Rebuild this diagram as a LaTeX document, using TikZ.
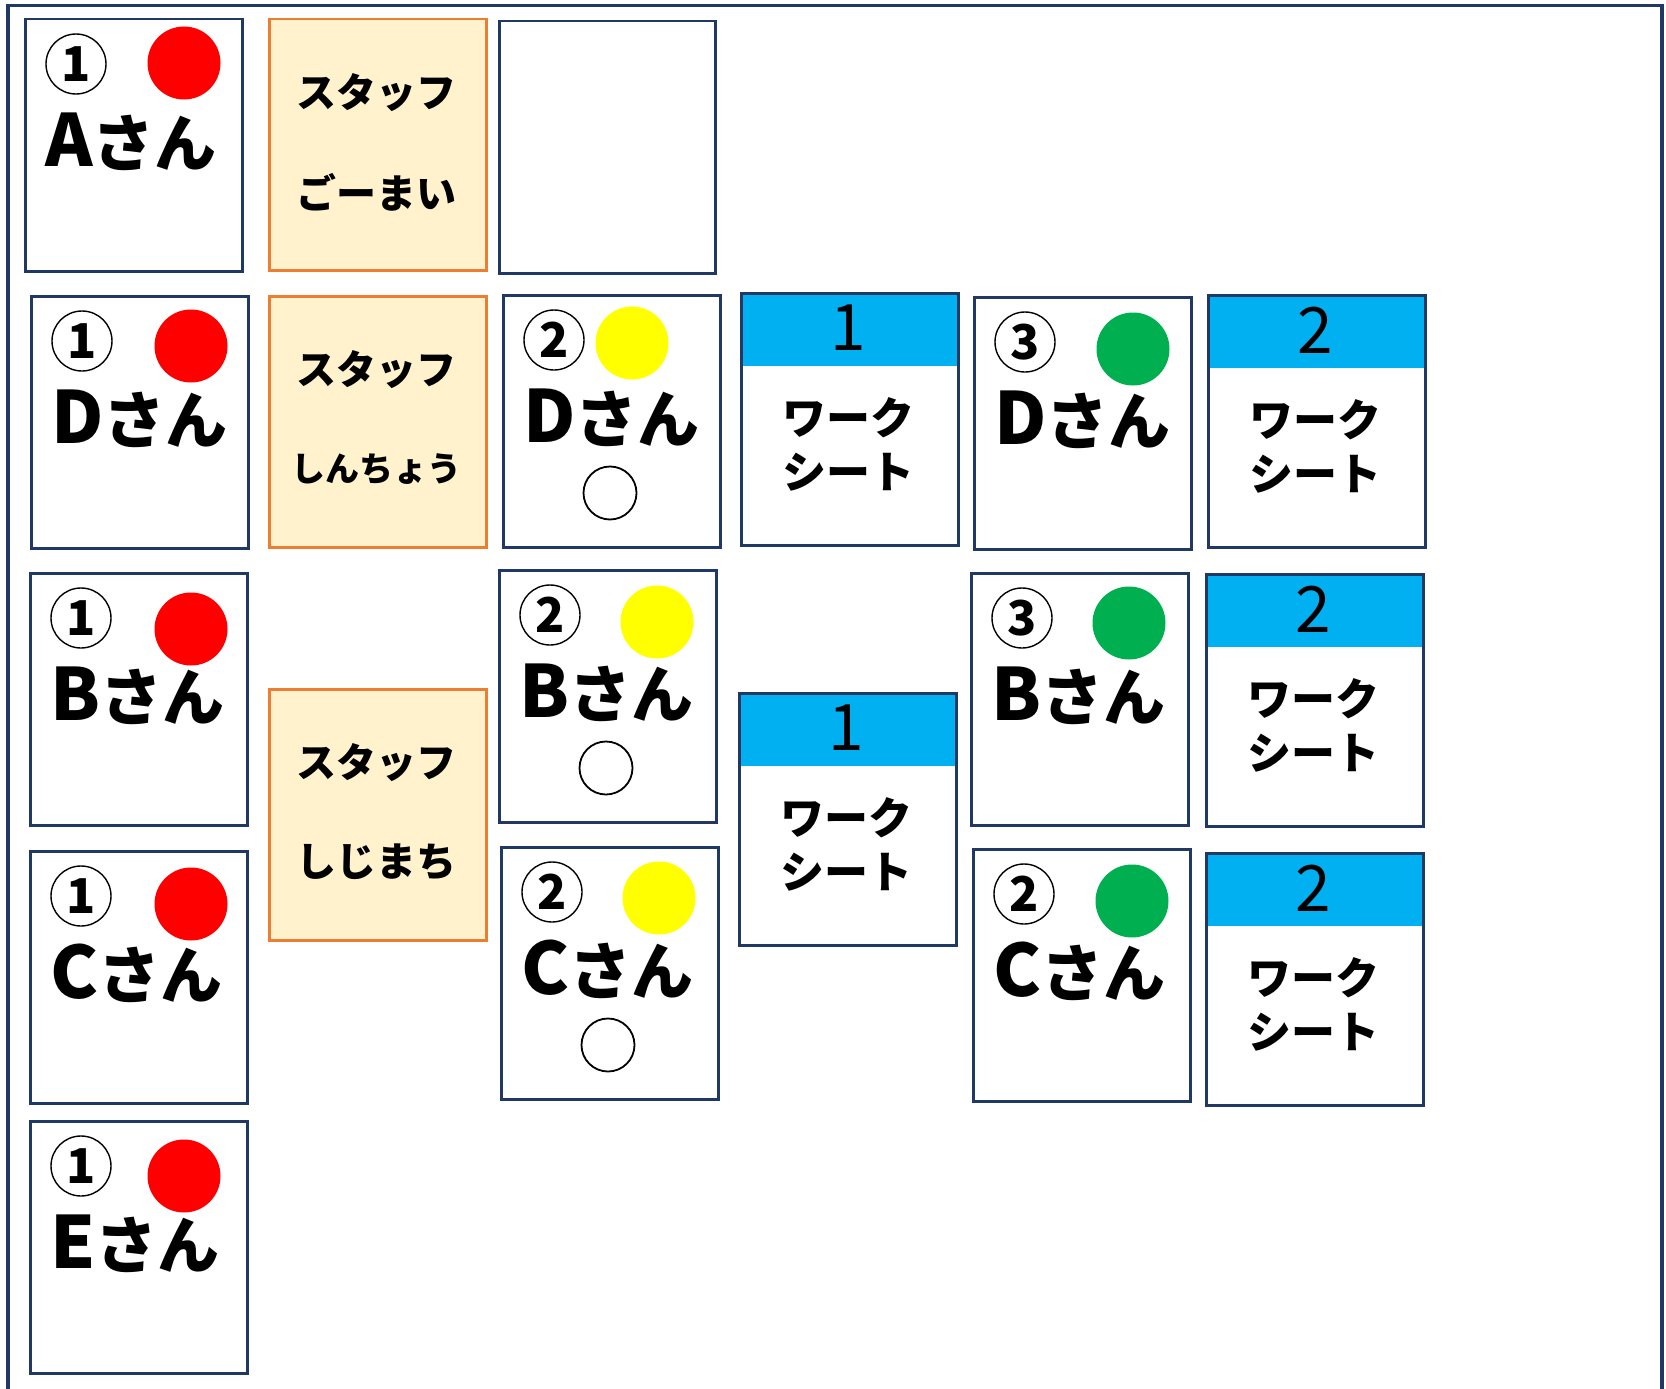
\documentclass[tikz,border=0pt]{standalone}
\usepackage{fontspec}
\setmainfont{Noto Sans CJK JP}
\definecolor{navy}{HTML}{1F3864}
\definecolor{orline}{HTML}{ED7D31}
\definecolor{orfill}{HTML}{FFF2CC}
\definecolor{wsblue}{HTML}{00B0F0}
\definecolor{dred}{HTML}{FF0000}
\definecolor{dyellow}{HTML}{FFFF00}
\definecolor{dgreen}{HTML}{00B050}
\tikzset{
  frame/.style={draw=navy, line width=3.5pt},
  pbox/.style={anchor=north west, rectangle, draw=navy, fill=white, line width=2.5pt, minimum width=217pt, minimum height=252pt, inner sep=0pt},
  wbox/.style={anchor=north west, rectangle, draw=navy, line width=2.5pt, minimum width=217pt, minimum height=252pt, inner sep=0pt},
  obox/.style={anchor=north west, rectangle, draw=orline, fill=orfill, line width=2.5pt, minimum width=217pt, minimum height=251pt, inner sep=0pt},
  numc/.style={circle, draw=black, line width=1.4pt, minimum size=60pt, inner sep=0pt, font=\fontsize{48}{48}\selectfont\bfseries},
  dotc/.style={circle, minimum size=73pt, inner sep=0pt},
  openc/.style={circle, draw=black, line width=1.8pt, minimum size=53pt, inner sep=0pt},
  nametext/.style={anchor=base west, inner sep=0pt, font=\fontsize{62}{70}\selectfont\bfseries},
  wsnum/.style={inner sep=0pt, font=\fontsize{64}{64}\selectfont},
  wstext/.style={inner sep=0pt, font=\fontsize{44}{44}\selectfont\bfseries},
  otext/.style={inner sep=0pt, font=\fontsize{40}{40}\selectfont\bfseries},
  otextsm/.style={inner sep=0pt, font=\fontsize{34}{34}\selectfont\bfseries},
}
% person card: name, x, y, digit, dot colour, dot dx, dot dy, letter
\newcommand{\pcard}[8]{%
  \node[pbox] (#1) at (#2,#3) {};
  \node[numc] (#1n) at ({#2+52},{#3+46}) {#4};
  \node[dotc, fill=#5] (#1d) at ({#2+#6},{#3+#7}) {};
  \node[nametext] (#1t) at ({#2+21},{#3+148}) {{\fontsize{72}{72}\selectfont #8}さん};
}
\newcommand{\okmark}[3]{%
  \node[openc] (#1) at ({#2+108},{#3+199}) {};
}
% worksheet card: name, x, y, number
\newcommand{\wcard}[4]{%
  \fill[white] (#2,#3) rectangle ({#2+217},{#3+252});
  \fill[wsblue] (#2,#3) rectangle ({#2+217},{#3+74});
  \node[wbox] (#1) at (#2,#3) {};
  \node[wsnum] (#1n) at ({#2+108.5},{#3+36}) {#4};
  \node[wstext] (#1a) at ({#2+108.5},{#3+126}) {ワーク};
  \node[wstext] (#1b) at ({#2+108.5},{#3+180}) {シート};
}
% staff card: name, x, y, second line, style of second line
\newcommand{\ocard}[5]{%
  \node[obox] (#1) at (#2,#3) {};
  \node[otext] (#1a) at ({#2+108.5},{#3+75}) {スタッフ};
  \node[#5] (#1b) at ({#2+108.5},{#3+174}) {#4};
}
\begin{document}
\begin{tikzpicture}[x=1pt,y=-1pt]
\useasboundingbox (0,0) rectangle (1666,1389);
\fill[white] (0,0) rectangle (1666,1389);
\draw[frame] (8,1400) -- (8,5.7) -- (1662,5.7) -- (1662,1400);

% column 1
\pcard{A1}{24}{18}{1}{dred}{160}{45}{A}
\pcard{D1}{30}{295}{1}{dred}{161}{51}{D}
\pcard{B1}{29}{572}{1}{dred}{162}{57}{B}
\pcard{C1}{29}{850}{1}{dred}{162}{54}{C}
\pcard{E1}{29}{1120}{1}{dred}{155}{56}{E}

% staff
\ocard{S1}{268}{18}{ごーまい}{otext}
\ocard{S2}{268}{295}{しんちょう}{otextsm}
\ocard{S3}{268}{688}{しじまち}{otext}

% empty card
\node[pbox, minimum width=216pt] (X1) at (498,20) {};

% column 3
\pcard{D2}{502}{294}{2}{dyellow}{130}{49}{D}
\okmark{D2o}{502}{294}
\pcard{B2}{498}{569}{2}{dyellow}{159}{53}{B}
\okmark{B2o}{498}{569}
\pcard{C2}{500}{846}{2}{dyellow}{159}{52}{C}
\okmark{C2o}{500}{846}

% worksheet 1
\wcard{W1a}{740}{292}{1}
\wcard{W1b}{738}{692}{1}

% column 5
\pcard{D3}{973}{296}{3}{dgreen}{160}{53}{D}
\pcard{B3}{970}{572}{3}{dgreen}{159}{51}{B}
\pcard{C3}{972}{848}{2}{dgreen}{160}{53}{C}

% worksheet 2
\wcard{W2a}{1207}{294}{2}
\wcard{W2b}{1205}{573}{2}
\wcard{W2c}{1205}{852}{2}
\end{tikzpicture}
\end{document}
